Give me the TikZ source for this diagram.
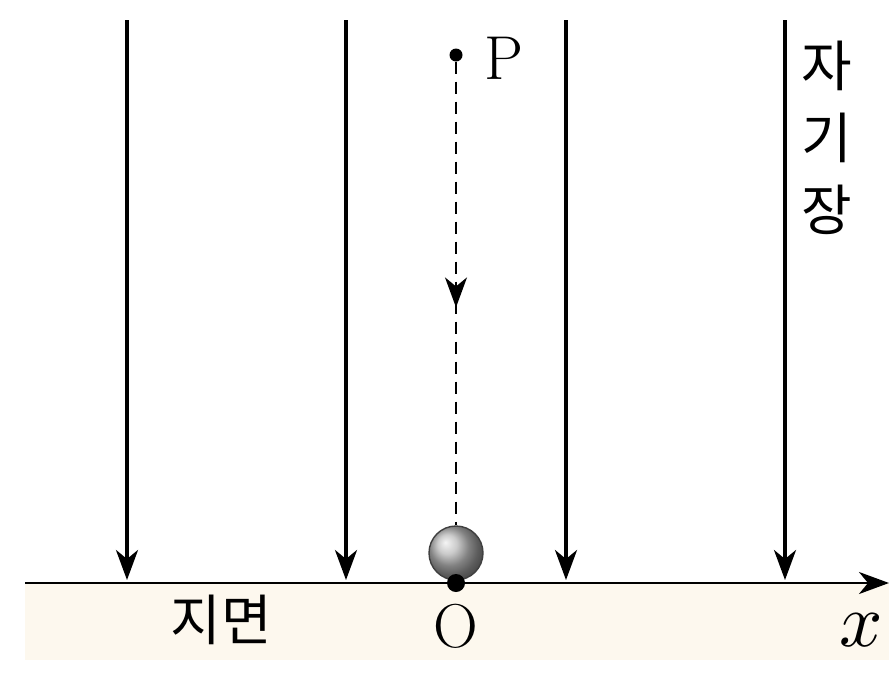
\documentclass[tikz,border=0pt]{standalone}
\usepackage{fontspec}
\newfontfamily\kr{Noto Sans CJK KR}
\usetikzlibrary{arrows.meta,decorations.markings}
\definecolor{groundcol}{HTML}{FDF8EE}
\tikzset{
  tipstyle/.tip={Stealth[length=30pt,width=22pt,inset=9pt]},
  field/.style={line width=3.4pt,-tipstyle},
  axisline/.style={line width=2.6pt,-tipstyle},
  pathline/.style={line width=2pt,dash pattern=on 12pt off 8pt,
    postaction={decorate},
    decoration={markings,mark=at position 0.53 with {\arrow{Stealth[length=30pt,width=22pt,inset=9pt]}}}},
  lbl/.style={inner sep=0pt,font=\fontsize{62}{62}\selectfont},
  krlbl/.style={inner sep=0pt,font=\kr\fontsize{55}{72}\selectfont,align=center},
}
\begin{document}
\begin{tikzpicture}[x=1pt,y=-1pt]
\useasboundingbox (0,0) rectangle (889,673);
\fill[groundcol] (25,583) rectangle (889,660);
% field lines
\foreach \xx/\nm in {127/a,346/b,566/c,785/d}{
  \coordinate (\nm top) at (\xx,20);
  \coordinate (\nm bot) at (\xx,580);
  \draw[field] (\nm top) -- (\nm bot);
}
% axis
\coordinate (axL) at (25,583);
\coordinate (axR) at (889,583);
\draw[axisline] (axL) -- (axR);
% ball
\node[circle,minimum size=54pt,inner sep=0pt,draw=black!75,line width=1.4pt,shading=ball,ball color=gray!55] (ball) at (456,553) {};
% P
\node[circle,fill=black,minimum size=13pt,inner sep=0pt] (P) at (456,55) {};
\draw[pathline] (P) -- (ball.north);
\node[lbl,anchor=west] (Plbl) at (484,58) {P};
% O
\node[circle,fill=black,minimum size=18pt,inner sep=0pt] (O) at (456,583) {};
\node[lbl] (Olbl) at (456,626) {O};
% x
\node[inner sep=0pt] (xlbl) at (861,630) {\scalebox{7.6}{$x$}};
% Korean labels
\node[krlbl] (field) at (827,138) {자\\기\\장};
\node[krlbl] (ground) at (221,620) {지면};
\end{tikzpicture}
\end{document}
